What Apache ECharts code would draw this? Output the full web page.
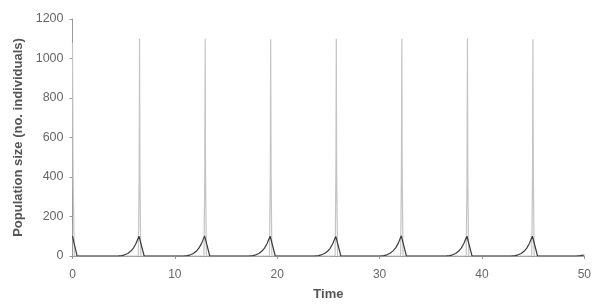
<!DOCTYPE html>
<html>
<head>
<meta charset="utf-8">
<script src="https://cdn.jsdelivr.net/npm/echarts@6/dist/echarts.min.js"></script>
<style>
  html, body { margin: 0; padding: 0; background: #fff; }
  #chart { width: 594px; height: 306px; }
</style>
</head>
<body>
<div id="chart"></div>
<script>
// prey-like spikes (light grey line)
const preyTime = [
  0, 0.06, 0.18,
  6.43, 6.51, 6.55, 6.59, 6.67,
  12.84, 12.92, 12.96, 13.0, 13.08,
  19.24, 19.32, 19.36, 19.4, 19.48,
  25.65, 25.73, 25.77, 25.81, 25.89,
  32.05, 32.13, 32.17, 32.21, 32.29,
  38.46, 38.54, 38.58, 38.62, 38.7,
  44.86, 44.94, 44.98, 45.02, 45.1,
  50
];
const preyValues = [
  1080, 400, 0,
  0, 400, 1100, 400, 0,
  0, 400, 1100, 400, 0,
  0, 400, 1098, 400, 0,
  0, 400, 1100, 400, 0,
  0, 400, 1100, 400, 0,
  0, 400, 1100, 400, 0,
  0, 400, 1098, 400, 0,
  0
];

// predator-like humps (dark line)
const predTime = [
  0, 0.2, 0.45,
  4.4, 4.8, 5.1, 5.4, 5.7, 5.95, 6.2, 6.35, 6.5, 7.0,
  10.81, 11.21, 11.51, 11.81, 12.11, 12.36, 12.61, 12.76, 12.91, 13.41,
  17.21, 17.61, 17.91, 18.21, 18.51, 18.76, 19.01, 19.16, 19.31, 19.81,
  23.62, 24.02, 24.32, 24.62, 24.92, 25.17, 25.42, 25.57, 25.72, 26.22,
  30.02, 30.42, 30.72, 31.02, 31.32, 31.57, 31.82, 31.97, 32.12, 32.62,
  36.43, 36.83, 37.13, 37.43, 37.73, 37.98, 38.23, 38.38, 38.53, 39.03,
  42.83, 43.23, 43.53, 43.83, 44.13, 44.38, 44.63, 44.78, 44.93, 45.43,
  49.2, 49.6, 50
];
const predValues = [
  100, 55, 0,
  0, 2, 6, 13, 25, 40, 63, 82, 100, 0,
  0, 2, 6, 13, 25, 41, 64, 83, 101, 0,
  0, 2, 6, 13, 25, 40, 63, 82, 100, 0,
  0, 2, 6, 13, 24, 39, 62, 81, 99, 0,
  0, 2, 6, 14, 26, 41, 64, 84, 102, 0,
  0, 2, 6, 13, 25, 40, 63, 82, 100, 0,
  0, 2, 6, 13, 25, 40, 63, 82, 100, 0,
  0, 2, 5
];

const xTicks = [0, 10, 20, 30, 40, 50];
const yTicks = [0, 200, 400, 600, 800, 1000, 1200];

const chart = echarts.init(document.getElementById('chart'));
const fontFamily = 'Liberation Sans, Arial, sans-serif';
const titleStyle = { color: '#555', fontSize: 13, fontWeight: 'bold', fontFamily };

chart.setOption({
  animation: false,
  grid: { left: 72.5, right: 5.5, top: 19, bottom: 46 },
  xAxis: {
    type: 'value',
    min: xTicks[0],
    max: xTicks[xTicks.length - 1],
    interval: 10,
    name: 'Time',
    nameLocation: 'middle',
    nameGap: 32,
    nameTextStyle: titleStyle,
    axisLine: { lineStyle: { color: '#999', width: 1 } },
    axisTick: { length: 3, lineStyle: { color: '#999' } },
    axisLabel: { margin: 13, color: '#666', fontSize: 12, fontFamily },
    splitLine: { show: false }
  },
  yAxis: {
    type: 'value',
    min: yTicks[0],
    max: yTicks[yTicks.length - 1],
    interval: 200,
    name: 'Population size (no. individuals)',
    nameLocation: 'middle',
    nameGap: 45,
    nameTextStyle: titleStyle,
    axisLine: { show: true, lineStyle: { color: '#999', width: 1 } },
    axisTick: { show: true, length: 3, lineStyle: { color: '#999' } },
    axisLabel: { margin: 9, color: '#666', fontSize: 12.5, fontFamily, formatter: v => String(v) },
    splitLine: { show: false }
  },
  series: [
    {
      type: 'line',
      data: preyTime.map((t, i) => [t, preyValues[i]]),
      showSymbol: false,
      lineStyle: { color: '#c4c4c4', width: 1.2 },
      z: 2
    },
    {
      type: 'line',
      data: predTime.map((t, i) => [t, predValues[i]]),
      showSymbol: false,
      lineStyle: { color: '#3c3c3c', width: 1.2 },
      z: 3
    }
  ]
});
</script>
</body>
</html>
